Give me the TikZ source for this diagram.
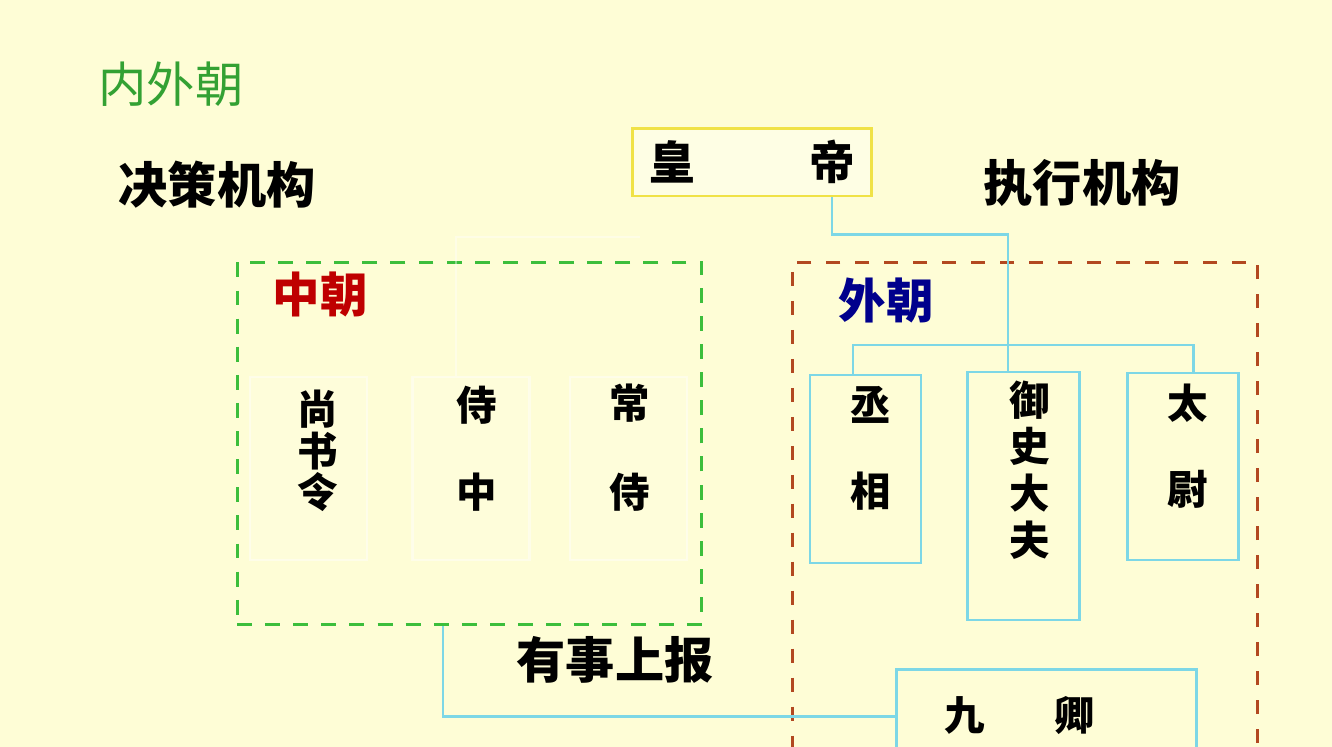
\documentclass[tikz,border=0pt]{standalone}
\usepackage{fontspec}
\setmainfont{Noto Sans CJK SC}
\usetikzlibrary{positioning}

\definecolor{paper}{RGB}{254,253,214}
\definecolor{zgreen}{RGB}{60,190,60}
\definecolor{wbrown}{RGB}{178,72,32}
\definecolor{wire}{RGB}{125,215,230}
\definecolor{crown}{RGB}{240,226,70}

\begin{document}
\begin{tikzpicture}[x=0.02cm, y=-0.02cm]
    \tikzset{
        title/.style = {font=\bfseries\fontsize{28}{30}\selectfont},
        guan/.style = {align=center, font=\bfseries\fontsize{23}{#1}\selectfont},
        box/.style = {rectangle, draw=wire, line width=1.6pt, inner sep=0pt},
        ghost/.style = {rectangle, draw=white, draw opacity=0.45, fill=white, fill opacity=0.12, line width=1.4pt, inner sep=0pt},
        line/.style = {draw=wire, line width=1.6pt},
        court/.style = {rectangle, line width=1.7pt, inner sep=0pt},
    }

    \path[use as bounding box, fill=paper] (0,0) rectangle (1332,747);
    \clip (0,0) rectangle (1332,747);

    \node[font=\fontsize{27.5}{29}\selectfont, text=zgreen!85!black](neiwai) at (171,84){内外朝};
    \node[title](juece) at (217,185){决策机构};
    \node[title](zhixing) at (1082,183){执行机构};

    % emperor
    \node[rectangle, draw=crown, fill=white!35!paper, line width=1.7pt, minimum width=4.78cm, minimum height=1.36cm](huangdi) at (752,162){};
    \node[font=\bfseries\fontsize{26}{28}\selectfont](huang) at (672,162){皇};
    \node[font=\bfseries\fontsize{26}{28}\selectfont](di) at (832,162){帝};

    % inner court
    \node[court, draw=zgreen, dash pattern=on 8.5pt off 7.5pt, minimum width=9.3cm, minimum height=7.26cm](zhongchao) at (469.5,443.5){};
    \node[font=\bfseries\fontsize{27}{29}\selectfont, text=red!75!black](zhong) at (320,294){中朝};
    \node[ghost, minimum width=2.34cm, minimum height=3.66cm](shangshu) at (308.5,468.5){};
    \node[ghost, minimum width=2.34cm, minimum height=3.66cm, right=0.86cm of shangshu](shizhong){};
    \node[ghost, minimum width=2.34cm, minimum height=3.66cm, right=0.76cm of shizhong](changshi){};
    \draw[white, opacity=0.4, line width=1.4pt] (640,237) -| ([xshift=-0.3cm]shizhong.north);
    \node[guan=23.5](shangshuT) at (318,451){尚\\书\\令};
    \node[guan=49.3](shizhongT) at (477,448.5){侍\\中};
    \node[guan=50.4](changshiT) at (630,447.5){常\\侍};

    % outer court
    \node[court, draw=wbrown, dash pattern=on 8pt off 8.5pt, minimum width=9.32cm, minimum height=10.16cm](waichao) at (1025,516){};
    \node[font=\bfseries\fontsize{27}{29}\selectfont, text=blue!55!black](wai) at (886,300){外朝};
    \node[box, minimum width=2.22cm, minimum height=3.76cm](chengxiang) at (865.5,469){};
    \node[box, minimum width=2.24cm, minimum height=4.96cm, anchor=north west](yushi) at ([xshift=0.88cm, yshift=0.06cm]chengxiang.north east){};
    \node[box, minimum width=2.22cm, minimum height=3.74cm, anchor=north west](taiwei) at ([xshift=0.9cm, yshift=-0.02cm]yushi.north east){};
    \node[box, minimum width=6cm, minimum height=2.4cm, anchor=north west](jiuqing) at (895,668){};
    \node[guan=49.3](chengxiangT) at (871,448.5){丞\\相};
    \node[guan=26.6](yushiT) at (1030,470){御\\史\\大\\夫};
    \node[guan=48.8](taiweiT) at (1188,446){太\\尉};
    \node[font=\bfseries\fontsize{23}{25}\selectfont](jiuqingT) at (1020,716){九\hspace{1.4cm}卿};

    \node[title](shangbao) at (615,660){有事上报};

    \coordinate (fork) at (1008,345);
    \path [line] (huangdi.south -| di) -- ++(0,37) -| (fork);
    \path [line] (fork) -- (fork |- yushi.north);
    \path [line] ([xshift=-0.25cm]chengxiang.north) |- (fork) -| ([xshift=0.21cm]taiwei.north);
    \path [line] ([xshift=-0.53cm]zhongchao.south) |- ([yshift=0.26cm]jiuqing.west);

\end{tikzpicture}
\end{document}
